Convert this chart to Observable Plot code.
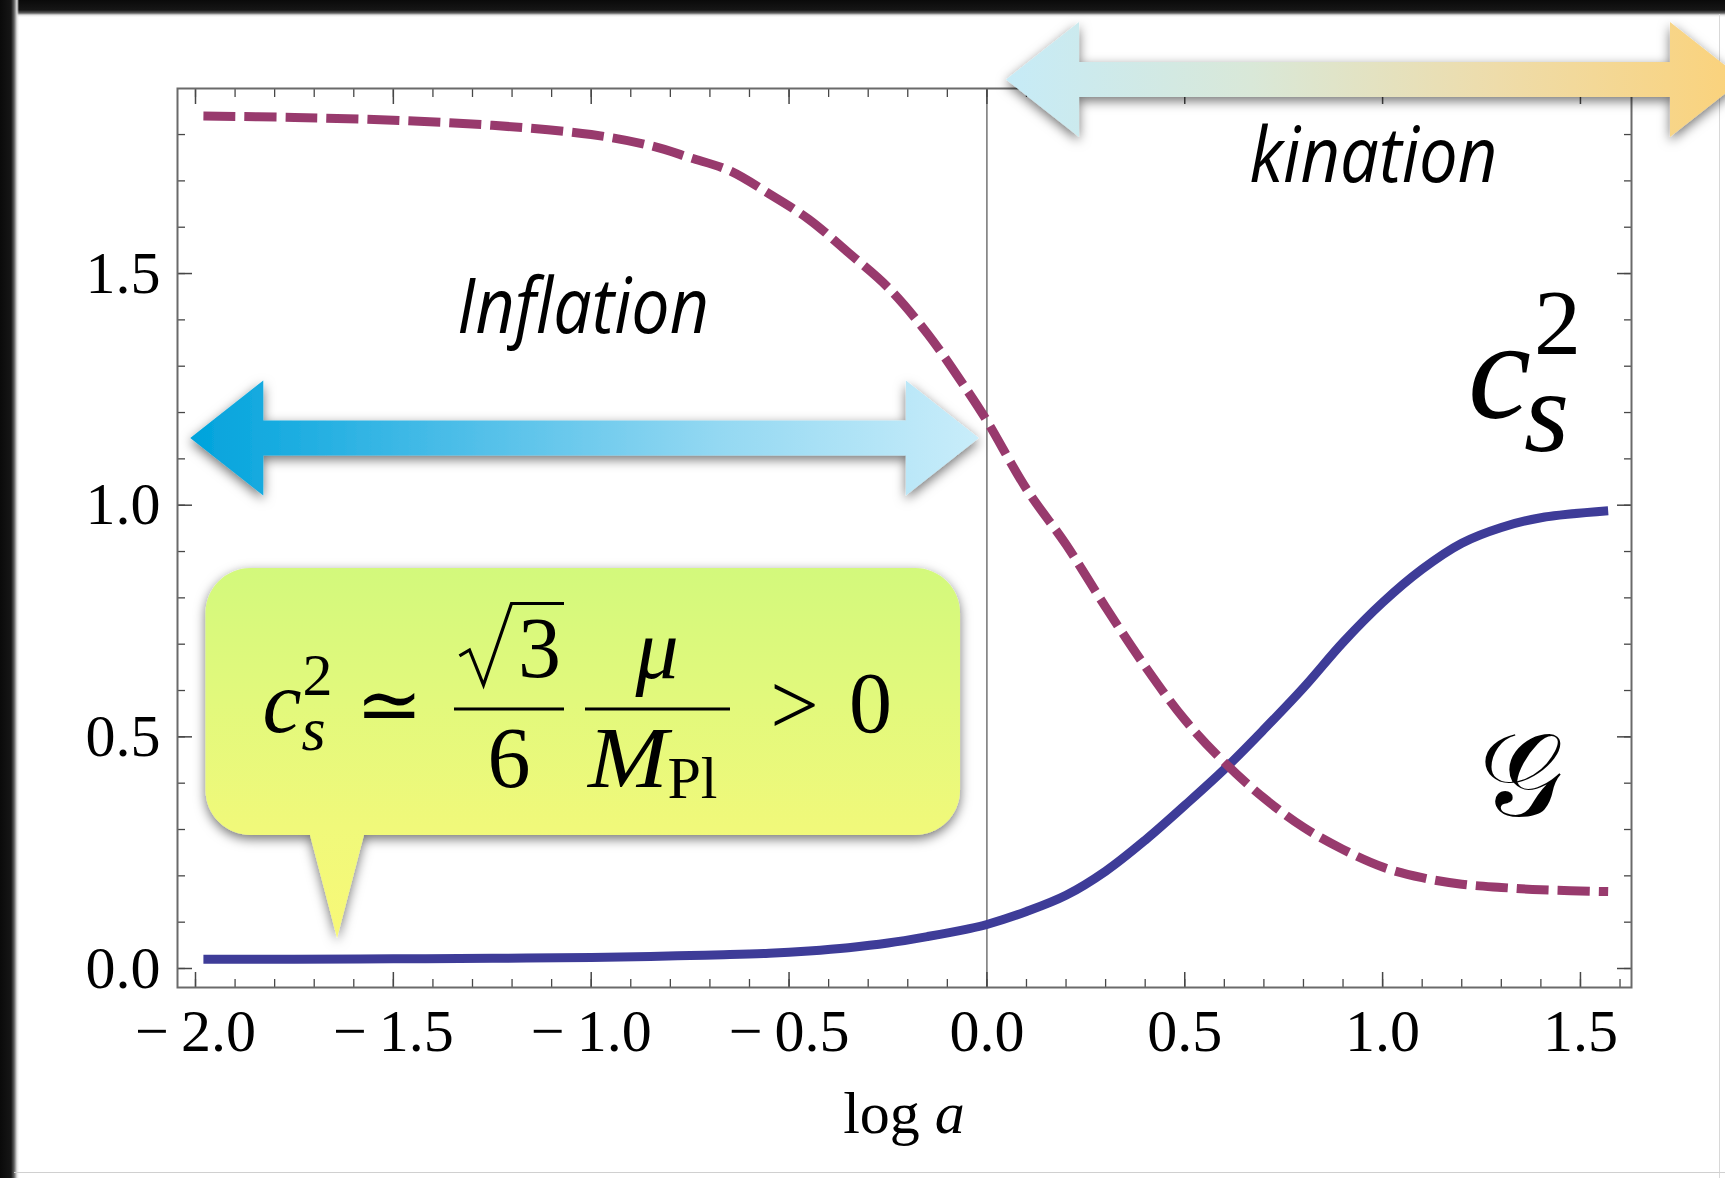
<!DOCTYPE html>
<html>
<head>
<meta charset="utf-8">
<script src="https://cdn.jsdelivr.net/npm/d3@7"></script>
<script src="https://cdn.jsdelivr.net/npm/@observablehq/plot@0.6"></script>
<style>
html, body { margin: 0; padding: 0; background: #fff; }
#page { position: relative; width: 1725px; height: 1178px; overflow: hidden; background: #fff; }
#edgeTop { position: absolute; left: 0; top: 0; width: 1725px; height: 17px;
  background: linear-gradient(to bottom, #0a0a0a 0px, #161616 10px, #5e5e5e 13px, #e2e2e2 15px, rgba(255,255,255,0) 17px); }
#edgeLeft { position: absolute; left: 0; top: 0; width: 19px; height: 1178px;
  background: linear-gradient(to right, #0a0a0a 0px, #161616 11px, #5e5e5e 14px, #e2e2e2 17px, rgba(255,255,255,0) 19px); }
#edgeRight { position: absolute; left: 1719px; top: 14px; width: 1px; height: 1164px; background: #d8d8d8; }
#edgeBottom { position: absolute; left: 14px; top: 1172px; width: 1711px; height: 1px; background: #d0d0d0; }
#chart { position: absolute; left: 0; top: 0; }
</style>
</head>
<body>
<div id="page">
  <div id="edgeTop"></div>
  <div id="edgeLeft"></div>
  <div id="edgeRight"></div>
  <div id="edgeBottom"></div>
  <div id="chart"></div>
</div>
<script>
// ---------- data ----------
const logA = [-1.98, -1.75, -1.5, -1.25, -1.0, -0.85, -0.75, -0.65, -0.55, -0.45, -0.35, -0.25, -0.15, -0.05,
  0.0, 0.1, 0.2, 0.3, 0.4, 0.5, 0.6, 0.7, 0.8, 0.9, 1.0, 1.1, 1.2, 1.3, 1.4, 1.57];
const gValues = [0.020, 0.020, 0.021, 0.022, 0.024, 0.026, 0.028, 0.030, 0.033, 0.038, 0.045, 0.055, 0.069, 0.085,
  0.095, 0.123, 0.158, 0.210, 0.277, 0.352, 0.430, 0.516, 0.606, 0.704, 0.790, 0.862, 0.918, 0.952, 0.973, 0.988];
const cs2Values = [1.840, 1.837, 1.831, 1.820, 1.800, 1.776, 1.750, 1.722, 1.672, 1.617, 1.545, 1.470, 1.370, 1.248,
  1.182, 1.035, 0.915, 0.780, 0.652, 0.537, 0.445, 0.368, 0.305, 0.257, 0.219, 0.196, 0.182, 0.175, 0.170, 0.166];

const xMajorTicks = [-2.0, -1.5, -1.0, -0.5, 0.0, 0.5, 1.0, 1.5];
const xTickLabels = ["−\u20092.0", "−\u20091.5", "−\u20091.0", "−\u20090.5", "0.0", "0.5", "1.0", "1.5"];
const yMajorTicks = [0.0, 0.5, 1.0, 1.5];
const yTickLabels = ["0.0", "0.5", "1.0", "1.5"];
const xMinorTicks = d3.range(-20, 17).map(i => i / 10);
const yMinorTicks = d3.range(0, 19).map(i => i / 10);

const xLabel = ["log ", "a"];           // "log a", with a in italics
const regionNames = ["Inflation", "kination"];
const curveNames = ["c", "2", "s"];     // c_s^2
const gName = "𝒢";

// ---------- annotation anchors (in data units) ----------
const regionArrows = [
  {from: -2.012, to: -0.019, at: 1.144, colors: ["#00a3dc", "#4bbde8", "#93d8f2", "#c9edfa"]},
  {from: 0.0496, to: 1.912, at: 1.918, colors: ["#c6ebf7", "#d9e8d8", "#eedcaa", "#fbd27a"]}
];
const regionLabelAnchors = [{x: -1.0195, y: 1.371, len: 252}, {x: 0.978, y: 1.697, len: 248}];
const bubble = {left: -1.9735, right: -0.0667, top: 0.8634, bottom: 0.2871,
  tailLeft: -1.7094, tailRight: -1.573, tipX: -1.641, tipY: 0.0648};
const cs2LabelAnchor = {x: 1.217, y: 1.187};
const gLabelAnchor = {x: 1.351, y: 0.4166};

const series = logA.map((x, i) => ({x, g: gValues[i], c: cs2Values[i]}));

const SERIF = "'Liberation Serif', 'DejaVu Serif', serif";
const SANS = "'Open Sans', 'Lato', sans-serif";

function backLayer(index, scales) {
  const {x, y} = scales;
  const g = d3.create("svg:g");
  const defs = g.append("defs");
  const f = defs.append("filter").attr("id", "dropShadow")
    .attr("x", "-10%").attr("y", "-40%").attr("width", "120%").attr("height", "180%");
  f.append("feDropShadow").attr("dx", 0).attr("dy", 4).attr("stdDeviation", 6)
    .attr("flood-color", "#000").attr("flood-opacity", 0.55);

  // double-headed block arrows
  const headLen = 73, headHalf = 57.5, shaftHalf = 17.5;
  regionArrows.forEach((a, k) => {
    const x1 = x(a.from), x2 = x(a.to), yc = y(a.at);
    const grad = defs.append("linearGradient").attr("id", "arrowGrad" + k)
      .attr("gradientUnits", "userSpaceOnUse").attr("x1", x1).attr("x2", x2).attr("y1", 0).attr("y2", 0);
    a.colors.forEach((c, i) => grad.append("stop").attr("offset", i / (a.colors.length - 1)).attr("stop-color", c));
    const p = [
      [x1, yc], [x1 + headLen, yc - headHalf], [x1 + headLen, yc - shaftHalf],
      [x2 - headLen, yc - shaftHalf], [x2 - headLen, yc - headHalf], [x2, yc],
      [x2 - headLen, yc + headHalf], [x2 - headLen, yc + shaftHalf],
      [x1 + headLen, yc + shaftHalf], [x1 + headLen, yc + headHalf]
    ];
    g.append("path").attr("d", "M" + p.map(d => d.join(",")).join("L") + "Z")
      .attr("fill", `url(#arrowGrad${k})`).attr("filter", "url(#dropShadow)");
  });

  // speech bubble
  const L = x(bubble.left), R = x(bubble.right), T = y(bubble.top), B = y(bubble.bottom);
  const tl = x(bubble.tailLeft), tr = x(bubble.tailRight), tx = x(bubble.tipX), ty = y(bubble.tipY);
  const r = 45;
  const bg = defs.append("linearGradient").attr("id", "bubbleGrad")
    .attr("gradientUnits", "userSpaceOnUse").attr("x1", 0).attr("x2", 0).attr("y1", T).attr("y2", ty);
  bg.append("stop").attr("offset", 0).attr("stop-color", "#d3f97c");
  bg.append("stop").attr("offset", 0.7).attr("stop-color", "#f0f97a");
  bg.append("stop").attr("offset", 1).attr("stop-color", "#f8f878");
  const d = `M${L + r},${T} H${R - r} A${r},${r} 0 0 1 ${R},${T + r} V${B - r} A${r},${r} 0 0 1 ${R - r},${B}
    H${tr} L${tx},${ty} L${tl},${B} H${L + r} A${r},${r} 0 0 1 ${L},${B - r} V${T + r} A${r},${r} 0 0 1 ${L + r},${T} Z`;
  g.append("path").attr("d", d).attr("fill", "url(#bubbleGrad)").attr("filter", "url(#dropShadow)");

  // formula  c_s^2 ≃ (√3/6)(μ/M_Pl) > 0
  const fm = g.append("g").attr("fill", "#000").attr("font-family", SERIF).attr("text-anchor", "start");
  const txt = (s, dx, dy, size, italic, anchor) => fm.append("text").text(s)
    .attr("x", L + dx).attr("y", T + dy).attr("font-size", size)
    .attr("font-style", italic ? "italic" : "normal").attr("text-anchor", anchor || "start");
  // c_s^2 as one text with tspans
  const cs = fm.append("text").attr("x", L + 57).attr("y", T + 164).attr("text-anchor", "start");
  cs.append("tspan").attr("font-size", 88).attr("font-style", "italic").text("c");
  cs.append("tspan").attr("x", L + 97).attr("y", T + 127).attr("font-size", 60).text("2");
  cs.append("tspan").attr("x", L + 96).attr("y", T + 182).attr("font-size", 62).attr("font-style", "italic").text("s");
  txt("≃", 183.5, 164, 80, false, "middle");
  fm.append("rect").attr("x", L + 248.5).attr("y", T + 139.5).attr("width", 110).attr("height", 3);
  fm.append("path").attr("fill", "none").attr("stroke", "#000").attr("stroke-width", 3.2)
    .attr("stroke-linejoin", "miter")
    .attr("d", `M${L + 254},${T + 88} L${L + 264},${T + 82} L${L + 278},${T + 117} L${L + 306},${T + 35.5} H${L + 358.5}`);
  txt("3", 334, 109, 86, false, "middle");
  txt("6", 303.5, 219, 86, false, "middle");
  fm.append("rect").attr("x", L + 379.5).attr("y", T + 139.5).attr("width", 145).attr("height", 3);
  txt("μ", 451.5, 110, 86, true, "middle");
  const mpl = fm.append("text").attr("x", L + 382.5).attr("y", T + 219).attr("text-anchor", "start");
  mpl.append("tspan").attr("font-size", 86).attr("font-style", "italic")
    .attr("textLength", 80).attr("lengthAdjust", "spacingAndGlyphs").text("M");
  mpl.append("tspan").attr("x", L + 462).attr("y", T + 230).attr("font-size", 60).text("Pl");
  txt(">", 589, 166, 86, false, "middle");
  txt("0", 665, 164, 86, false, "middle");
  return g.node();
}

function frontLayer(index, scales, values, dims) {
  const {x, y} = scales;
  const g = d3.create("svg:g").attr("fill", "#000").attr("text-anchor", "start");
  // region names
  regionNames.forEach((name, i) => {
    const a = regionLabelAnchors[i];
    g.append("text").text(name).attr("x", x(a.x)).attr("y", y(a.y))
      .attr("text-anchor", "middle").attr("font-family", SANS).attr("font-style", "italic")
      .attr("font-weight", 500)
      .attr("font-size", 77).attr("textLength", a.len).attr("lengthAdjust", "spacingAndGlyphs");
  });
  // c_s^2 label (one text, tspans for super/subscript)
  const cx = x(cs2LabelAnchor.x), cy = y(cs2LabelAnchor.y);
  const t = g.append("text").attr("x", cx).attr("y", cy).attr("font-family", SERIF).attr("text-anchor", "start");
  t.append("tspan").attr("font-style", "italic").attr("font-size", 142).text(curveNames[0]);
  t.append("tspan").attr("x", cx + 66).attr("y", cy - 64).attr("font-size", 94).text(curveNames[1]);
  t.append("tspan").attr("x", cx + 56).attr("y", cy + 33).attr("font-style", "italic").attr("font-size", 116).text(curveNames[2]);
  // G label
  g.append("text").text(gName).attr("x", x(gLabelAnchor.x)).attr("y", y(gLabelAnchor.y))
    .attr("text-anchor", "middle").attr("dominant-baseline", "central")
    .attr("font-family", "'DejaVu Serif', 'DejaVu Sans', 'Noto Sans', serif").attr("font-size", 118);
  // x-axis label
  const midX = (dims.marginLeft + dims.width - dims.marginRight) / 2;
  const lab = g.append("text").attr("x", midX).attr("y", dims.height - dims.marginBottom + 146)
    .attr("text-anchor", "middle").attr("font-family", SERIF).attr("font-size", 60);
  lab.append("tspan").text(xLabel[0]);
  lab.append("tspan").attr("font-style", "italic").text(xLabel[1]);
  return g.node();
}

const tickStroke = "#474747";
const chart = Plot.plot({
  width: 1725,
  height: 1178,
  marginLeft: 177,
  marginRight: 94,
  marginTop: 88,
  marginBottom: 191,
  x: {domain: [-2.0455, 1.629]},
  y: {domain: [-0.041, 1.8994]},
  style: {background: "transparent", fontFamily: SERIF, fontSize: "60px", color: "#000", overflow: "visible"},
  marks: [
    Plot.ruleX([0], {stroke: "#6a6a6a", strokeWidth: 1.4}),
    Plot.axisX(xMinorTicks, {anchor: "bottom", tickSize: -8, text: null, label: null, stroke: tickStroke, strokeWidth: 1.3}),
    Plot.axisX(xMinorTicks, {anchor: "top", tickSize: -8, text: null, label: null, stroke: tickStroke, strokeWidth: 1.3}),
    Plot.axisX(xMajorTicks, {anchor: "bottom", tickSize: -15, text: null, label: null, stroke: tickStroke, strokeWidth: 1.5}),
    Plot.axisX(xMajorTicks, {anchor: "top", tickSize: -15, text: null, label: null, stroke: tickStroke, strokeWidth: 1.5}),
    Plot.axisY(yMinorTicks, {anchor: "left", tickSize: -8, text: null, label: null, stroke: tickStroke, strokeWidth: 1.3}),
    Plot.axisY(yMinorTicks, {anchor: "right", tickSize: -8, text: null, label: null, stroke: tickStroke, strokeWidth: 1.3}),
    Plot.axisY(yMajorTicks, {anchor: "left", tickSize: -15, text: null, label: null, stroke: tickStroke, strokeWidth: 1.5}),
    Plot.axisY(yMajorTicks, {anchor: "right", tickSize: -15, text: null, label: null, stroke: tickStroke, strokeWidth: 1.5}),
    Plot.frame({stroke: "#6a6a6a", strokeWidth: 2}),
    Plot.axisX(xMajorTicks, {anchor: "bottom", tickSize: 0, tickPadding: 21, label: null,
      tickFormat: d => xTickLabels[xMajorTicks.indexOf(d)], fontSize: 60, fill: "#000"}),
    Plot.axisY(yMajorTicks, {anchor: "left", tickSize: 0, tickPadding: 17, label: null,
      tickFormat: d => yTickLabels[yMajorTicks.indexOf(d)], fontSize: 60, fill: "#000"}),
    backLayer,
    Plot.line(series, {x: "x", y: "g", stroke: "#3e3c98", strokeWidth: 9, curve: "catmull-rom", strokeLinecap: "butt"}),
    Plot.line(series, {x: "x", y: "c", stroke: "#983a6d", strokeWidth: 9, curve: "catmull-rom",
      strokeDasharray: "32,9", strokeLinecap: "butt"}),
    frontLayer
  ]
});
document.getElementById("chart").appendChild(chart);
</script>
</body>
</html>
